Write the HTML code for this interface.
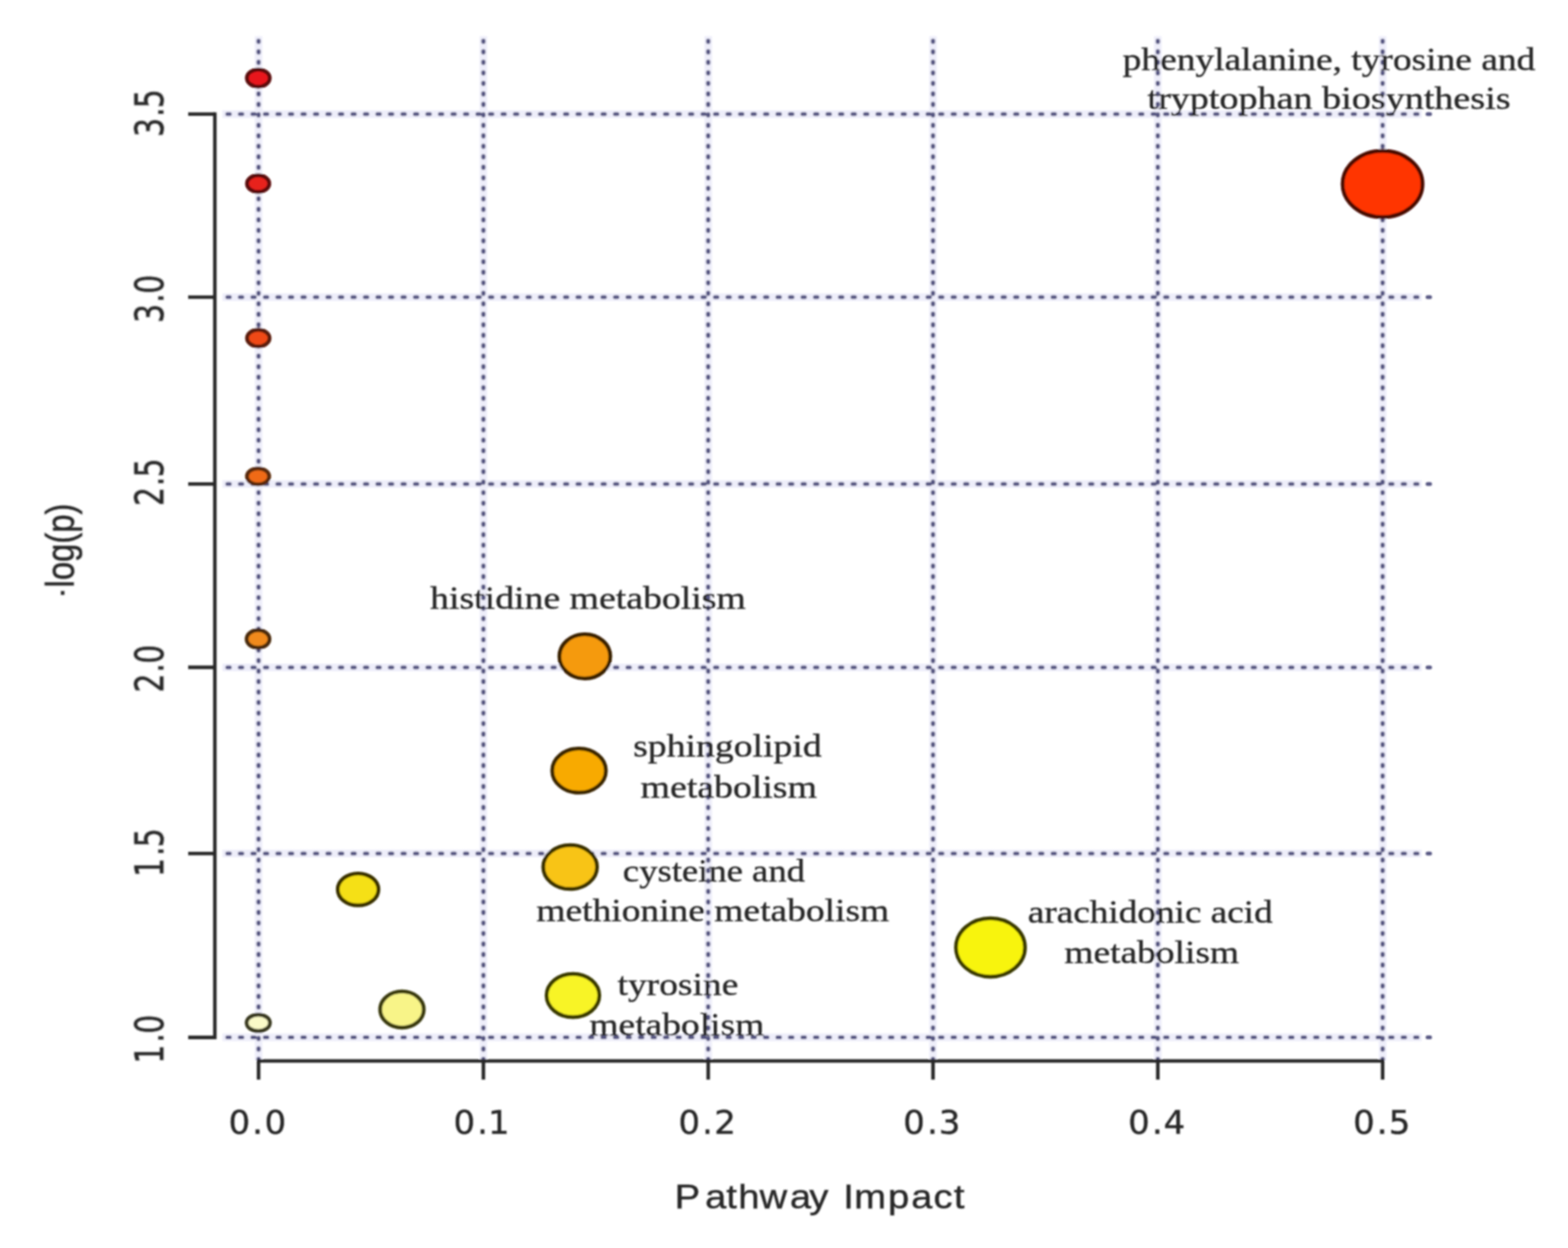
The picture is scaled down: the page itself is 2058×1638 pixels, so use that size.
<!DOCTYPE html>
<html><head><meta charset="utf-8"><title>Pathway Impact plot</title>
<style>html,body{margin:0;padding:0;background:#fff;} svg{display:block;}</style></head>
<body><svg width="2058" height="1638" viewBox="0 0 2058 1638">
<defs><filter id="soft" filterUnits="userSpaceOnUse" x="0" y="0" width="2058" height="1638"><feGaussianBlur stdDeviation="0.9"/></filter></defs>
<rect width="2058" height="1638" fill="#ffffff"/>
<g filter="url(#soft)">
<line x1="339.40" y1="47.41" x2="339.40" y2="1392" stroke="#eeeefa" stroke-width="10"/>
<line x1="634.46" y1="47.41" x2="634.46" y2="1392" stroke="#eeeefa" stroke-width="10"/>
<line x1="929.52" y1="47.41" x2="929.52" y2="1392" stroke="#eeeefa" stroke-width="10"/>
<line x1="1224.58" y1="47.41" x2="1224.58" y2="1392" stroke="#eeeefa" stroke-width="10"/>
<line x1="1519.64" y1="47.41" x2="1519.64" y2="1392" stroke="#eeeefa" stroke-width="10"/>
<line x1="1814.70" y1="47.41" x2="1814.70" y2="1392" stroke="#eeeefa" stroke-width="10"/>
<line x1="291.80" y1="149.8" x2="1866" y2="149.8" stroke="#eeeefa" stroke-width="10"/>
<line x1="291.80" y1="390" x2="1866" y2="390" stroke="#eeeefa" stroke-width="10"/>
<line x1="291.80" y1="635.2" x2="1866" y2="635.2" stroke="#eeeefa" stroke-width="10"/>
<line x1="291.80" y1="875.9" x2="1866" y2="875.9" stroke="#eeeefa" stroke-width="10"/>
<line x1="291.80" y1="1120.3" x2="1866" y2="1120.3" stroke="#eeeefa" stroke-width="10"/>
<line x1="291.80" y1="1361.6" x2="1866" y2="1361.6" stroke="#eeeefa" stroke-width="10"/>
<line x1="339.40" y1="53.60" x2="339.40" y2="1392" stroke="#565682" stroke-width="5.6" stroke-linecap="round" stroke-dasharray="1.40 12.375"/>
<line x1="634.46" y1="53.60" x2="634.46" y2="1392" stroke="#565682" stroke-width="5.6" stroke-linecap="round" stroke-dasharray="1.40 12.375"/>
<line x1="929.52" y1="53.60" x2="929.52" y2="1392" stroke="#565682" stroke-width="5.6" stroke-linecap="round" stroke-dasharray="1.40 12.375"/>
<line x1="1224.58" y1="53.60" x2="1224.58" y2="1392" stroke="#565682" stroke-width="5.6" stroke-linecap="round" stroke-dasharray="1.40 12.375"/>
<line x1="1519.64" y1="53.60" x2="1519.64" y2="1392" stroke="#565682" stroke-width="5.6" stroke-linecap="round" stroke-dasharray="1.40 12.375"/>
<line x1="1814.70" y1="53.60" x2="1814.70" y2="1392" stroke="#565682" stroke-width="5.6" stroke-linecap="round" stroke-dasharray="1.40 12.375"/>
<line x1="298.30" y1="149.8" x2="1877" y2="149.8" stroke="#565682" stroke-width="5.0" stroke-linecap="round" stroke-dasharray="3.40 13.010"/>
<line x1="298.30" y1="390" x2="1877" y2="390" stroke="#565682" stroke-width="5.0" stroke-linecap="round" stroke-dasharray="3.40 13.010"/>
<line x1="298.30" y1="635.2" x2="1877" y2="635.2" stroke="#565682" stroke-width="5.0" stroke-linecap="round" stroke-dasharray="3.40 13.010"/>
<line x1="298.30" y1="875.9" x2="1877" y2="875.9" stroke="#565682" stroke-width="5.0" stroke-linecap="round" stroke-dasharray="3.40 13.010"/>
<line x1="298.30" y1="1120.3" x2="1877" y2="1120.3" stroke="#565682" stroke-width="5.0" stroke-linecap="round" stroke-dasharray="3.40 13.010"/>
<line x1="298.30" y1="1361.6" x2="1877" y2="1361.6" stroke="#565682" stroke-width="5.0" stroke-linecap="round" stroke-dasharray="3.40 13.010"/>
<text transform="matrix(0.4914 0 0 0.4300 1473.52 91.50)" font-family="'Liberation Serif', 'DejaVu Serif', serif" font-size="100" fill="#262626" stroke="#262626" stroke-width="1.0">phenylalanine, tyrosine and</text>
<text transform="matrix(0.5005 0 0 0.4300 1506.00 142.80)" font-family="'Liberation Serif', 'DejaVu Serif', serif" font-size="100" fill="#262626" stroke="#262626" stroke-width="1.0">tryptophan biosynthesis</text>
<text transform="matrix(0.4958 0 0 0.4300 564.50 799.20)" font-family="'Liberation Serif', 'DejaVu Serif', serif" font-size="100" fill="#262626" stroke="#262626" stroke-width="1.0">histidine metabolism</text>
<text transform="matrix(0.4949 0 0 0.4300 831.02 993.40)" font-family="'Liberation Serif', 'DejaVu Serif', serif" font-size="100" fill="#262626" stroke="#262626" stroke-width="1.0">sphingolipid</text>
<text transform="matrix(0.4961 0 0 0.4300 840.81 1046.90)" font-family="'Liberation Serif', 'DejaVu Serif', serif" font-size="100" fill="#262626" stroke="#262626" stroke-width="1.0">metabolism</text>
<text transform="matrix(0.4807 0 0 0.4300 817.58 1156.70)" font-family="'Liberation Serif', 'DejaVu Serif', serif" font-size="100" fill="#262626" stroke="#262626" stroke-width="1.0">cysteine and</text>
<text transform="matrix(0.4920 0 0 0.4300 704.02 1209.00)" font-family="'Liberation Serif', 'DejaVu Serif', serif" font-size="100" fill="#262626" stroke="#262626" stroke-width="1.0">methionine metabolism</text>
<text transform="matrix(0.4921 0 0 0.4300 810.51 1305.50)" font-family="'Liberation Serif', 'DejaVu Serif', serif" font-size="100" fill="#262626" stroke="#262626" stroke-width="1.0">tyrosine</text>
<text transform="matrix(0.4924 0 0 0.4300 773.52 1359.00)" font-family="'Liberation Serif', 'DejaVu Serif', serif" font-size="100" fill="#262626" stroke="#262626" stroke-width="1.0">metabolism</text>
<text transform="matrix(0.4885 0 0 0.4300 1349.05 1211.40)" font-family="'Liberation Serif', 'DejaVu Serif', serif" font-size="100" fill="#262626" stroke="#262626" stroke-width="1.0">arachidonic acid</text>
<text transform="matrix(0.4914 0 0 0.4300 1397.02 1263.90)" font-family="'Liberation Serif', 'DejaVu Serif', serif" font-size="100" fill="#262626" stroke="#262626" stroke-width="1.0">metabolism</text>
<ellipse cx="339" cy="102.6" rx="15.00" ry="11.30" fill="#e8141a" stroke="#5a0808" stroke-width="5.0"/>
<ellipse cx="338.8" cy="241" rx="14.65" ry="10.95" fill="#e8201c" stroke="#5a0808" stroke-width="5.0"/>
<ellipse cx="339" cy="443.7" rx="14.80" ry="11.00" fill="#f04a12" stroke="#5a1a08" stroke-width="5.0"/>
<ellipse cx="338.7" cy="625.3" rx="14.60" ry="10.55" fill="#f06a14" stroke="#5a2a08" stroke-width="5.0"/>
<ellipse cx="338.7" cy="838.7" rx="15.00" ry="11.60" fill="#f08a1a" stroke="#4a2a08" stroke-width="5.0"/>
<ellipse cx="339" cy="1342.5" rx="15.30" ry="10.80" fill="#fafac8" stroke="#3a3a20" stroke-width="5.0"/>
<ellipse cx="470" cy="1167.4" rx="26.70" ry="20.95" fill="#f5e012" stroke="#3a3300" stroke-width="5.0"/>
<ellipse cx="527.6" cy="1325" rx="28.60" ry="23.65" fill="#f8f488" stroke="#3a3a10" stroke-width="5.0"/>
<ellipse cx="767.6" cy="861.5" rx="33.40" ry="29.00" fill="#f59a10" stroke="#3a2000" stroke-width="5.0"/>
<ellipse cx="760" cy="1011.4" rx="35.20" ry="28.90" fill="#f8aa06" stroke="#3a2500" stroke-width="5.0"/>
<ellipse cx="748.3" cy="1138" rx="35.30" ry="28.80" fill="#f8c414" stroke="#3a3000" stroke-width="5.0"/>
<ellipse cx="752" cy="1306.6" rx="34.60" ry="28.45" fill="#f8f428" stroke="#3a3a00" stroke-width="5.0"/>
<ellipse cx="1300" cy="1243.6" rx="45.30" ry="38.30" fill="#f8f410" stroke="#3a3a00" stroke-width="5.0"/>
<ellipse cx="1814.6" cy="241.5" rx="52.45" ry="43.45" fill="#ff3500" stroke="#4a0800" stroke-width="5.0"/>
<line x1="282" y1="147.5" x2="282" y2="1363.8999999999999" stroke="#262626" stroke-width="4.6"/>
<line x1="247" y1="149.8" x2="282" y2="149.8" stroke="#262626" stroke-width="4.6"/>
<line x1="247" y1="390" x2="282" y2="390" stroke="#262626" stroke-width="4.6"/>
<line x1="247" y1="635.2" x2="282" y2="635.2" stroke="#262626" stroke-width="4.6"/>
<line x1="247" y1="875.9" x2="282" y2="875.9" stroke="#262626" stroke-width="4.6"/>
<line x1="247" y1="1120.3" x2="282" y2="1120.3" stroke="#262626" stroke-width="4.6"/>
<line x1="247" y1="1361.6" x2="282" y2="1361.6" stroke="#262626" stroke-width="4.6"/>
<line x1="337.10" y1="1392.5" x2="1817.00" y2="1392.5" stroke="#262626" stroke-width="4.6"/>
<line x1="339.40" y1="1392.5" x2="339.40" y2="1417" stroke="#262626" stroke-width="4.6"/>
<line x1="634.46" y1="1392.5" x2="634.46" y2="1417" stroke="#262626" stroke-width="4.6"/>
<line x1="929.52" y1="1392.5" x2="929.52" y2="1417" stroke="#262626" stroke-width="4.6"/>
<line x1="1224.58" y1="1392.5" x2="1224.58" y2="1417" stroke="#262626" stroke-width="4.6"/>
<line x1="1519.64" y1="1392.5" x2="1519.64" y2="1417" stroke="#262626" stroke-width="4.6"/>
<line x1="1814.70" y1="1392.5" x2="1814.70" y2="1417" stroke="#262626" stroke-width="4.6"/>
<text transform="matrix(0.445 0 0 0.425 0 1487.6)" x="674.1 744.1 780.2" y="0" font-family="'DejaVu Sans', 'Liberation Sans', sans-serif" font-size="100" fill="#262626" stroke="#262626" stroke-width="1.1">0.0</text>
<text transform="matrix(0.445 0 0 0.425 0 1487.6)" x="1337.5 1407.4 1439.6" y="0" font-family="'DejaVu Sans', 'Liberation Sans', sans-serif" font-size="100" fill="#262626" stroke="#262626" stroke-width="1.1">0.1</text>
<text transform="matrix(0.445 0 0 0.425 0 1487.6)" x="2000.9 2070.8 2106.9" y="0" font-family="'DejaVu Sans', 'Liberation Sans', sans-serif" font-size="100" fill="#262626" stroke="#262626" stroke-width="1.1">0.2</text>
<text transform="matrix(0.445 0 0 0.425 0 1487.6)" x="2664.2 2734.2 2769.3" y="0" font-family="'DejaVu Sans', 'Liberation Sans', sans-serif" font-size="100" fill="#262626" stroke="#262626" stroke-width="1.1">0.3</text>
<text transform="matrix(0.445 0 0 0.425 0 1487.6)" x="3327.6 3397.5 3432.1" y="0" font-family="'DejaVu Sans', 'Liberation Sans', sans-serif" font-size="100" fill="#262626" stroke="#262626" stroke-width="1.1">0.4</text>
<text transform="matrix(0.445 0 0 0.425 0 1487.6)" x="3991.0 4060.9 4096.0" y="0" font-family="'DejaVu Sans', 'Liberation Sans', sans-serif" font-size="100" fill="#262626" stroke="#262626" stroke-width="1.1">0.5</text>
<text transform="matrix(0 -0.39 0.513 0 214.6 176.5)" x="-8.0 59.5 88.9" y="0" font-family="'DejaVu Sans', 'Liberation Sans', sans-serif" font-size="100" fill="#262626" stroke="#262626" stroke-width="1.1">3.5</text>
<text transform="matrix(0 -0.39 0.513 0 214.6 420.6)" x="-8.0 59.5 89.9" y="0" font-family="'DejaVu Sans', 'Liberation Sans', sans-serif" font-size="100" fill="#262626" stroke="#262626" stroke-width="1.1">3.0</text>
<text transform="matrix(0 -0.39 0.513 0 214.6 661.2)" x="-7.0 59.5 88.9" y="0" font-family="'DejaVu Sans', 'Liberation Sans', sans-serif" font-size="100" fill="#262626" stroke="#262626" stroke-width="1.1">2.5</text>
<text transform="matrix(0 -0.39 0.513 0 214.6 906)" x="-7.0 59.5 89.9" y="0" font-family="'DejaVu Sans', 'Liberation Sans', sans-serif" font-size="100" fill="#262626" stroke="#262626" stroke-width="1.1">2.0</text>
<text transform="matrix(0 -0.39 0.513 0 214.6 1146.6)" x="-11.0 59.5 88.9" y="0" font-family="'DejaVu Sans', 'Liberation Sans', sans-serif" font-size="100" fill="#262626" stroke="#262626" stroke-width="1.1">1.5</text>
<text transform="matrix(0 -0.39 0.513 0 214.6 1391.6)" x="-11.0 59.5 89.9" y="0" font-family="'DejaVu Sans', 'Liberation Sans', sans-serif" font-size="100" fill="#262626" stroke="#262626" stroke-width="1.1">1.0</text>
<text transform="matrix(0.5 0 0 0.435 0 1586.3)" x="1771.2 1851.0 1906.6 1938.0 1994.2 2073.6 2124.6 2184.6 2213.6 2242.4 2331.0 2392.2 2450.4 2504.0" y="0" font-family="'Liberation Sans', Arial, sans-serif" font-size="100" fill="#262626" stroke="#262626" stroke-width="1.1">Pathway Impact</text>
<text transform="matrix(0 -0.4310 0.5191 0 96.50 771.02)" font-family="'Liberation Sans', Arial, sans-serif" font-size="100" fill="#262626" stroke="#262626" stroke-width="1.1"><tspan x="-19.06" y="-25.36" font-size="15.2" stroke-width="8.0">-</tspan><tspan x="0" y="0">log(p)</tspan></text>
</g>
</svg></body></html>
